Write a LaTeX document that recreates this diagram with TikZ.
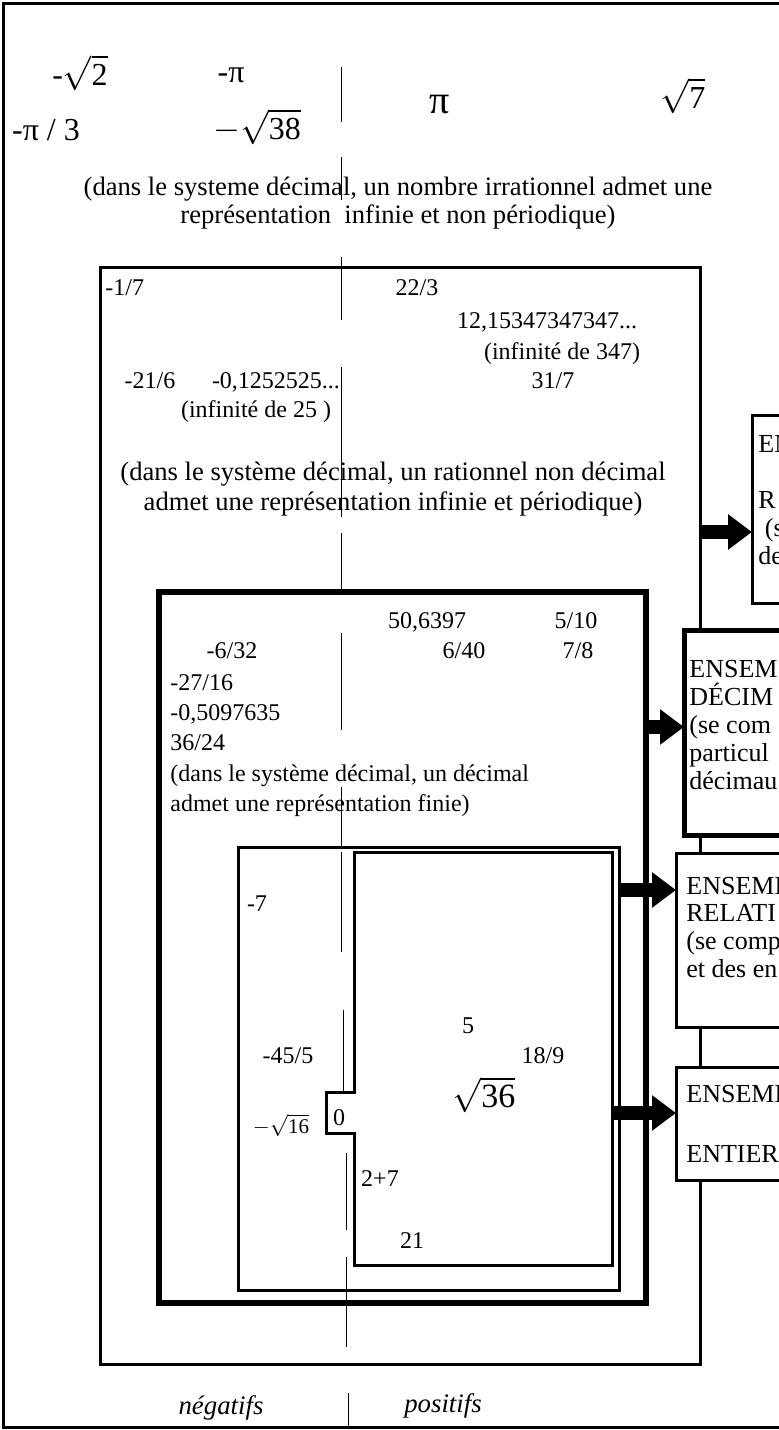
\documentclass[tikz,border=0pt]{standalone}
\usepackage{fontspec}
\setmainfont{Liberation Serif}
\usetikzlibrary{arrows.meta}
\newcommand{\rt}[1]{$\sqrt{\mbox{#1}}$}
\tikzset{
  txt/.style={inner sep=0pt, font=\fontsize{12}{14}\selectfont},
  captxt/.style={inner sep=0pt, font=\fontsize{13.3}{15}\selectfont},
  lbltxt/.style={inner sep=0pt, font=\fontsize{13}{15}\selectfont},
  bigtxt/.style={inner sep=0pt, font=\fontsize{16}{18}\selectfont},
  itx/.style={inner sep=0pt, font=\fontsize{13.4}{15}\selectfont\itshape},
  zline/.style={line width=0.5pt},
  frame/.style={line width=1.5pt},
  thickframe/.style={line width=2.75pt},
  lblbox/.style={line width=1.5pt, fill=white},
  thicklbl/.style={line width=2.5pt, fill=white},
  blockarrow/.style={line width=7pt, -{Triangle[length=12pt,width=17pt]}}
}
\begin{document}
\begin{tikzpicture}[x=0.5pt,y=-0.5pt]
\useasboundingbox (0,0) rectangle (779,1430);
\clip (0,0) rectangle (779,1430);
\fill[white] (0,0) rectangle (779,1430);
% outer frame
\draw[frame] (3,3) rectangle (800,1427);
% zero line
\draw[zline] (341,67) -- (341,122);
\draw[zline] (341,157) -- (341,200);
\draw[zline] (341,257) -- (341,320);
\draw[zline] (341,367) -- (341,517);
\draw[zline] (341,533) -- (341,592);
\draw[zline] (341,633) -- (341,730);
\draw[zline] (341,787) -- (341,847);
\draw[zline] (341,852) -- (341,952);
\draw[zline] (343,1010) -- (343,1092);
\draw[zline] (346,1153) -- (346,1230);
\draw[zline] (346,1257) -- (346,1347);
\draw[zline] (348,1393) -- (348,1427);
% irrationals
\node[bigtxt] (i1) at (80,73) {-\rt{2}};
\node[bigtxt] (i2) at (231,75) {-π};
\node[bigtxt] (i3) at (46,130) {-π / 3};
\node[bigtxt] (i4) at (257,127) {$-$\rt{38}};
\node[inner sep=0pt, font=\fontsize{20}{22}\selectfont] (i5) at (440,105) {π};
\node[bigtxt] (i6) at (683,96) {\rt{7}};
\node[captxt, anchor=base] (ic1) at (398,195) {(dans le systeme décimal, un nombre irrationnel admet une};
\node[captxt, anchor=base] (ic2) at (398,223) {représentation~ infinie et non périodique)};
% rationals box
\draw[frame] (100,267) rectangle (700,1364);
\node[txt, anchor=base west] (q1) at (105,295) {-1/7};
\node[txt, anchor=base] (q2) at (417,295) {22/3};
\node[txt, anchor=base] (q3) at (547,328) {12,15347347347...};
\node[txt, anchor=base] (q4) at (562,359) {(infinité de 347)};
\node[txt, anchor=base] (q5) at (150,388) {-21/6};
\node[txt, anchor=base] (q6) at (276,388) {-0,1252525...};
\node[txt, anchor=base] (q7) at (553,388) {31/7};
\node[txt, anchor=base] (q8) at (256,417) {(infinité de 25 )};
\node[captxt, anchor=base] (qc1) at (393,480) {(dans le système décimal, un rationnel non décimal};
\node[captxt, anchor=base] (qc2) at (393,510) {admet une représentation infinie et périodique)};
% decimals box
\draw[thickframe] (159,592) rectangle (646,1303);
\node[txt, anchor=base] (d1) at (427,628) {50,6397};
\node[txt, anchor=base] (d2) at (576,628) {5/10};
\node[txt, anchor=base] (d3) at (232,658) {-6/32};
\node[txt, anchor=base] (d4) at (464,658) {6/40};
\node[txt, anchor=base] (d5) at (578,658) {7/8};
\node[txt, anchor=base west] (d6) at (170,690) {-27/16};
\node[txt, anchor=base west] (d7) at (170,720) {-0,5097635};
\node[txt, anchor=base west] (d8) at (170,750) {36/24};
\node[txt, anchor=base west] (dc1) at (170,781) {(dans le système décimal, un décimal};
\node[txt, anchor=base west] (dc2) at (170,811) {admet une représentation finie)};
% integers box
\draw[frame] (238,847) rectangle (619,1290);
\node[txt, anchor=base] (z1) at (257,911) {-7};
\node[txt, anchor=base] (z2) at (288,1063) {-45/5};
\node[inner sep=0pt, font=\fontsize{10.5}{12}\selectfont] (z3) at (281,1125) {$-$\rt{16}};
% naturals shape
\draw[frame] (354,852) -- (612,852) -- (612,1265) -- (354,1265) -- (354,1133)
  -- (326,1133) -- (326,1092) -- (354,1092) -- cycle;
\node[txt, anchor=base] (n1) at (468,1033) {5};
\node[txt, anchor=base] (n2) at (543,1063) {18/9};
\node[inner sep=0pt, font=\fontsize{17}{19}\selectfont] (n3) at (484,1095) {\rt{36}};
\node[txt, anchor=base] (n4) at (339,1125) {0};
\node[txt, anchor=base] (n5) at (380,1186) {2+7};
\node[txt, anchor=base] (n6) at (412,1248) {21};
% label boxes
\draw[lblbox] (752,415) rectangle (800,603);
\node[lbltxt, anchor=base west] (lq1) at (758,452) {EN};
\node[lbltxt, anchor=base west] (lq2) at (758,508) {R};
\node[lbltxt, anchor=base west] (lq3) at (758,536) {\ (s};
\node[lbltxt, anchor=base west] (lq4) at (758,564) {de};
\draw[thicklbl] (684,630) rectangle (800,835);
\node[lbltxt, anchor=base west] (ld1) at (689,677) {ENSEM};
\node[lbltxt, anchor=base west] (ld2) at (689,705) {DÉCIM};
\node[lbltxt, anchor=base west] (ld3) at (689,733) {(se com};
\node[lbltxt, anchor=base west] (ld4) at (689,761) {particul};
\node[lbltxt, anchor=base west] (ld5) at (689,789) {décimau};
\draw[lblbox] (676,853) rectangle (800,1027);
\node[lbltxt, anchor=base west] (lz1) at (686,894) {ENSEMB};
\node[lbltxt, anchor=base west] (lz2) at (686,921) {RELATI};
\node[lbltxt, anchor=base west] (lz3) at (686,949) {(se comp};
\node[lbltxt, anchor=base west] (lz4) at (686,977) {et des en};
\draw[lblbox] (676,1067) rectangle (800,1180);
\node[lbltxt, anchor=base west] (ln1) at (686,1102) {ENSEMB};
\node[lbltxt, anchor=base west] (ln2) at (686,1162) {ENTIER};
% arrows
\coordinate (aq0) at (700,532); \coordinate (aq1) at (752,532);
\coordinate (ad0) at (647,727); \coordinate (ad1) at (684,727);
\coordinate (az0) at (619,890); \coordinate (az1) at (676,890);
\coordinate (an0) at (612,1113); \coordinate (an1) at (676,1113);
\draw[blockarrow] (aq0) -- (aq1);
\draw[blockarrow] (ad0) -- (ad1);
\draw[blockarrow] (az0) -- (az1);
\draw[blockarrow] (an0) -- (an1);
% bottom labels
\node[itx, anchor=base] (neg) at (221,1414) {négatifs};
\node[itx, anchor=base] (pos) at (443,1412) {positifs};
\end{tikzpicture}
\end{document}
